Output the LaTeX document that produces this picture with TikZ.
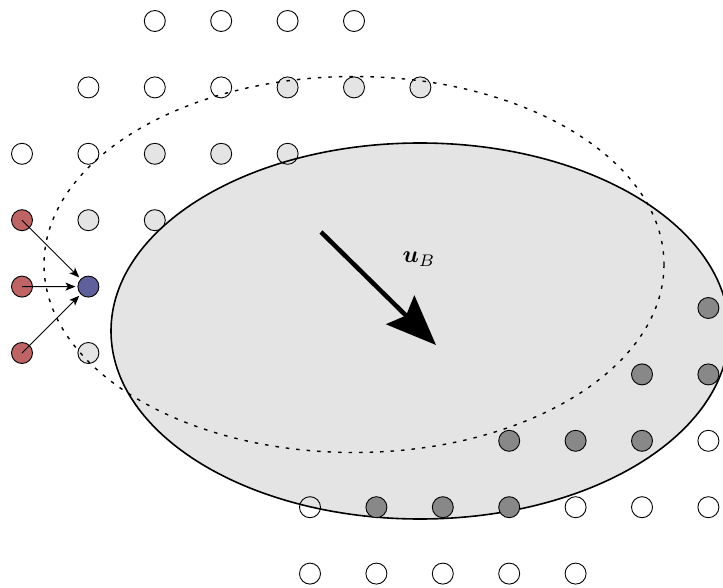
\documentclass[tikz,border=0pt]{standalone}
\usepackage{amsmath,bm}
\usetikzlibrary{arrows.meta}
\definecolor{lightfill}{RGB}{228,228,228}
\definecolor{darkfill}{RGB}{136,136,136}
\definecolor{srcfill}{RGB}{190,100,100}
\definecolor{dstfill}{RGB}{95,95,155}
\begin{document}
\begin{tikzpicture}[x=1pt,y=-1pt,
  site/.style={circle,draw=black,line width=0.9pt,minimum size=21pt,inner sep=0pt},
  emptysite/.style={site},
  lightsite/.style={site,fill=lightfill},
  darksite/.style={site,fill=darkfill},
  srcsite/.style={site,fill=srcfill},
  dstsite/.style={site,fill=dstfill},
  region/.style={line width=1.6pt},
  oldregion/.style={line width=1.4pt,dash pattern=on 3.5pt off 7pt},
  flow/.style={line width=0.9pt,-{Stealth[length=10pt,width=8pt,inset=2.5pt]}},
  drift/.style={line width=4.5pt,-{Stealth[length=50pt,width=40pt,inset=8pt]}}]
\useasboundingbox (0,0) rectangle (723,588);

% displaced region (filled)
\fill[lightfill] (420,331) ellipse [x radius=309, y radius=188];

% lattice sites covered by the original region
\foreach \c/\r in {4/1,5/1,6/1,2/2,3/2,4/2,1/3,2/3,1/5}
  \node[lightsite] (l-\c-\r) at ({22+66.4*\c},{21+66.4*\r}) {};

\draw[region] (420,331) ellipse [x radius=309, y radius=188];

% original region
\draw[oldregion] (354,264.5) ellipse [x radius=310, y radius=188];

% empty sites of the reference lattice
\foreach \c/\r in {2/0,3/0,4/0,5/0,1/1,2/1,3/1,0/2,1/2}
  \node[emptysite] (e-\c-\r) at ({22+66.4*\c},{21+66.4*\r}) {};

% source and target sites
\foreach \r in {3,4,5}
  \node[srcsite] (s-\r) at (22,{21+66.4*\r}) {};
\node[dstsite] (t) at (88.4,286.6) {};

% shifted lattice
\foreach \c/\r in {6/0,5/1,6/1,3/2,4/2,5/2,1/3,2/3,3/3}
  \node[darksite] (d-\c-\r) at ({310+66.4*\c},{308+66.4*\r}) {};
\foreach \c/\r in {6/2,0/3,4/3,5/3,6/3,0/4,1/4,2/4,3/4,4/4}
  \node[emptysite] (w-\c-\r) at ({310+66.4*\c},{308+66.4*\r}) {};

% transfer arrows
\foreach \r in {3,4,5}
  \draw[flow,shorten >=2pt] (s-\r.center) -- (t);

% drift velocity
\coordinate (ua) at (321,232);
\coordinate (ub) at (436,345);
\draw[drift] (ua) -- (ub);
\node[scale=2.4] (ulabel) at (419,259) {$\bm{u}_B$};
\end{tikzpicture}
\end{document}
